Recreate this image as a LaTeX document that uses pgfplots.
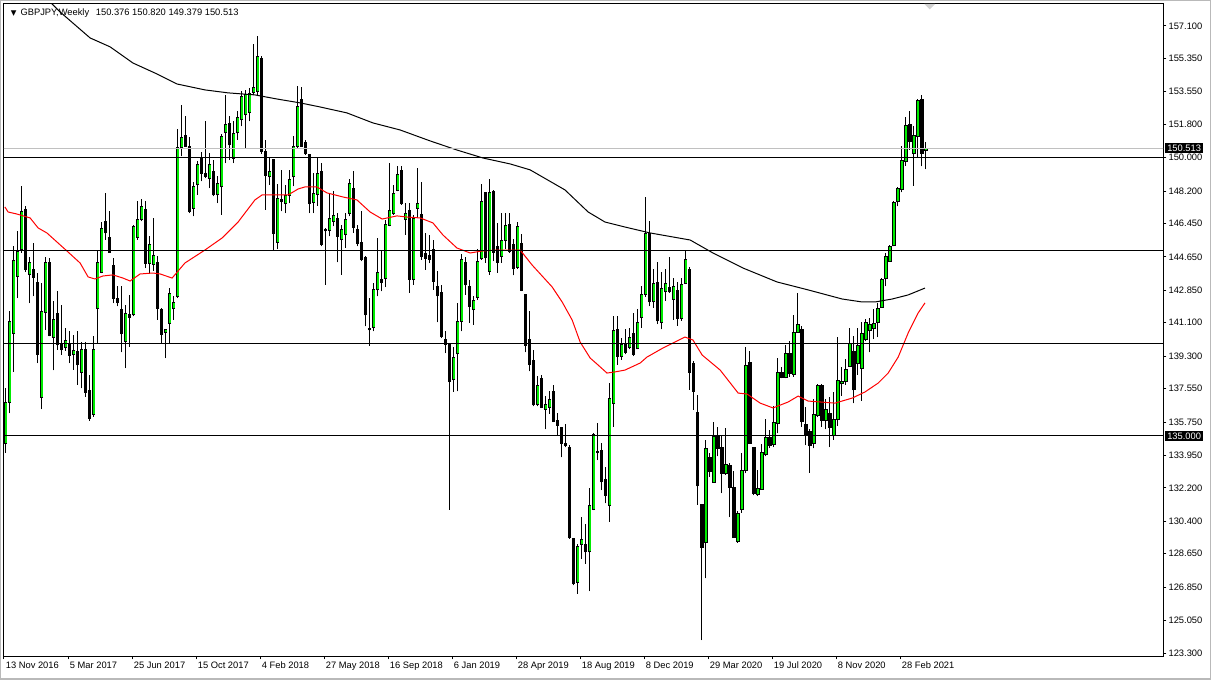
\documentclass[border=0pt]{standalone}
\usepackage{pgfplots}
\pgfplotsset{compat=1.18}
\usepackage{pgfplotstable}
\usepackage{fontspec}
\setmainfont{Liberation Sans}
\newfontfamily\dejavu{DejaVu Sans}

\definecolor{bull}{RGB}{0,235,0}
\definecolor{maRed}{RGB}{255,0,0}
\definecolor{askGray}{RGB}{192,192,192}

% weekly candles, i = weeks since 13 Nov 2016
\pgfplotstableread{
i O H L C
0 134.6 137.6 134.1 136.8
1 136.82 141.74 136.22 141.17
2 140.54 145.22 138.47 144.44
3 143.6 146.03 142.43 144.95
4 145.04 148.45 144.86 147.1
5 147.19 147.37 143.85 143.99
6 143.69 144.64 142.16 144.32
7 143.96 145.4 142.52 143.56
8 143.29 143.78 138.92 139.41
9 137.09 143.24 136.44 141.71
10 141.67 144.64 140.72 144.32
11 144.32 144.59 140.36 140.41
12 140.32 142.25 138.53 141.26
13 141.58 142.79 139.64 139.91
14 140.0 142.07 139.37 139.64
15 139.78 140.81 139.59 140.13
16 139.91 140.63 138.92 139.34
17 139.39 140.45 138.56 139.59
18 139.55 140.63 137.75 138.83
19 138.44 140.04 137.57 139.68
20 139.68 140.04 137.12 137.36
21 137.43 138.29 135.83 135.95
22 136.17 140.36 136.04 139.64
23 141.89 144.95 140.0 144.32
24 143.81 146.51 143.78 146.2
25 146.56 148.09 145.58 145.94
26 145.67 147.1 144.86 144.89
27 144.17 144.59 142.16 142.43
28 142.39 143.06 141.98 142.19
29 141.83 143.06 139.5 140.5
30 140.09 142.07 138.65 141.62
31 141.53 142.61 139.82 141.4
32 141.53 146.38 141.44 146.26
33 145.7 147.64 145.58 146.69
34 146.65 147.77 146.56 147.34
35 147.19 147.64 144.05 144.32
36 144.32 145.76 143.78 145.31
37 144.23 146.74 143.9 144.71
38 144.32 144.71 141.26 141.89
39 141.83 141.89 140.0 140.49
40 140.58 140.72 139.19 140.72
41 141.08 142.97 140.0 142.7
42 141.85 142.52 141.26 142.19
43 142.52 151.55 142.43 150.52
44 150.56 152.81 150.07 151.06
45 151.19 152.27 150.58 150.61
46 150.58 151.12 147.01 147.1
47 147.28 148.67 146.83 148.45
48 148.53 149.8 148.0 149.62
49 149.98 150.29 148.72 149.17
50 149.14 151.96 148.9 148.99
51 148.9 150.25 148.36 149.62
52 149.26 149.89 147.91 148.0
53 148.0 148.99 147.55 148.6
54 148.42 151.3 146.92 151.15
55 151.38 153.4 149.71 151.78
56 151.83 152.27 149.89 150.7
57 149.98 151.96 149.71 151.29
58 151.33 152.5 150.97 152.14
59 152.05 153.58 151.69 153.27
60 152.32 153.67 150.52 153.4
61 152.45 153.76 151.96 153.44
62 153.53 156.1 153.4 153.76
63 153.58 156.58 153.31 155.47
64 155.32 155.47 150.2 150.34
65 150.34 150.97 147.19 149.05
66 148.96 149.98 148.54 149.26
67 149.89 149.9 145.0 145.9
68 145.45 148.6 145.07 147.82
69 147.73 149.35 147.1 147.64
70 147.55 148.54 147.01 147.95
71 147.95 149.35 147.55 148.81
72 148.96 151.19 148.45 150.58
73 150.61 153.85 150.52 152.77
74 153.13 153.81 150.58 150.61
75 150.83 150.97 150.16 150.22
76 150.14 150.16 147.01 147.52
77 147.59 149.17 147.01 148.06
78 148.04 149.98 147.4 149.14
79 149.24 149.71 145.22 145.31
80 146.1 146.2 143.15 146.06
81 146.08 148.09 145.76 146.74
82 146.56 148.18 146.3 146.87
83 146.74 147.01 144.35 145.76
84 145.58 146.38 143.69 146.15
85 145.88 147.01 145.13 146.65
86 147.01 148.85 146.83 148.58
87 148.36 149.26 145.94 146.26
88 146.12 146.38 145.22 145.4
89 145.4 147.1 144.41 144.5
90 144.64 144.68 140.9 141.53
91 140.79 142.43 139.86 140.72
92 140.85 143.24 140.63 142.88
93 142.88 145.67 142.52 143.81
94 143.42 144.95 142.79 143.27
95 143.51 146.65 143.02 146.37
96 146.37 149.71 146.3 147.14
97 146.98 148.54 146.92 148.06
98 148.24 149.57 148.18 149.08
99 149.3 149.53 147.46 147.52
100 146.69 147.55 145.85 146.98
101 147.14 147.55 142.73 143.45
102 143.42 146.92 143.15 146.74
103 147.28 149.44 146.74 147.55
104 146.92 148.67 144.5 144.68
105 144.82 145.94 143.96 144.59
106 144.71 145.85 144.32 144.53
107 145.04 145.58 142.88 143.33
108 143.06 143.87 141.12 142.55
109 142.75 143.15 140.27 140.36
110 140.22 140.63 139.46 139.95
111 139.95 140.0 131.01 137.93
112 138.02 139.82 137.39 139.24
113 139.42 142.16 137.4 141.17
114 141.17 144.82 140.63 144.5
115 144.35 144.64 142.6 143.15
116 143.06 143.4 141.09 141.99
117 141.81 142.53 141.0 142.3
118 142.46 145.05 142.35 144.39
119 144.55 148.57 144.5 147.63
120 148.12 148.15 144.33 144.6
121 143.88 148.87 143.7 148.12
122 148.15 148.26 144.42 144.91
123 145.2 146.5 143.79 144.37
124 144.69 147.04 144.33 145.54
125 145.56 147.04 145.05 146.35
126 146.4 147.04 144.87 144.96
127 145.32 145.63 143.65 144.05
128 144.1 146.53 144.0 146.28
129 145.38 145.86 142.8 142.86
130 142.6 142.62 139.5 139.88
131 140.19 141.72 138.48 138.87
132 139.05 139.65 136.6 136.68
133 136.71 138.24 136.6 137.7
134 138.12 138.3 136.5 136.53
135 136.44 137.13 135.36 136.68
136 136.55 137.4 136.2 136.95
137 137.4 137.76 135.75 135.77
138 135.83 136.26 135.05 135.59
139 135.47 135.5 133.85 134.6
140 134.57 135.65 134.39 134.48
141 134.39 134.51 129.45 129.52
142 129.49 129.5 126.95 127.04
143 127.13 129.16 126.5 129.05
144 129.16 130.64 128.39 129.43
145 129.14 130.28 128.12 128.75
146 128.75 132.17 126.64 131.27
147 131.04 135.14 131.0 135.05
148 134.18 135.68 133.7 134.13
149 134.24 134.6 132.08 132.53
150 132.66 133.34 131.36 131.81
151 131.27 137.85 130.37 137.04
152 136.77 141.49 135.5 140.69
153 140.73 141.45 138.84 139.29
154 139.29 140.28 139.1 139.92
155 139.94 140.75 139.4 139.52
156 139.76 140.84 139.67 140.3
157 140.53 141.65 139.3 139.4
158 139.7 141.83 139.67 141.11
159 141.38 143.09 140.84 142.64
160 142.64 147.9 142.5 145.9
161 145.9 146.6 142.0 142.23
162 142.23 143.99 141.92 143.23
163 143.27 144.35 141.02 141.2
164 141.11 143.85 140.75 142.95
165 142.77 143.99 142.28 143.23
166 143.0 144.62 142.73 142.77
167 142.37 143.49 141.25 143.05
168 142.86 143.27 140.93 141.34
169 141.34 143.49 141.2 143.18
170 143.22 144.98 143.18 144.53
171 143.99 144.08 137.5 138.44
172 138.9 139.04 136.42 137.41
173 136.24 137.23 131.29 132.31
174 131.29 131.3 123.99 129.0
175 129.25 134.8 127.32 134.3
176 133.81 134.08 132.8 133.09
177 132.51 135.74 132.5 134.98
178 134.98 135.49 133.9 134.35
179 134.35 135.0 131.92 133.0
180 132.96 135.43 132.9 133.45
181 133.4 133.54 130.63 132.25
182 132.2 133.09 129.5 129.52
183 129.3 130.93 129.25 130.84
184 131.05 134.08 130.86 133.14
185 133.14 139.81 133.0 138.8
186 138.95 139.58 134.6 134.62
187 134.35 134.4 131.8 131.92
188 131.83 133.18 131.75 132.19
189 132.14 134.59 132.1 134.08
190 134.0 135.92 133.9 134.89
191 134.89 135.34 134.35 134.48
192 134.53 136.6 134.4 135.74
193 135.67 139.22 135.14 138.43
194 138.44 138.74 138.1 138.16
195 138.16 139.91 138.1 139.42
196 139.42 140.14 138.2 138.38
197 138.29 141.53 138.2 140.6
198 140.6 142.7 140.55 141.03
199 140.76 140.9 135.5 135.77
200 135.59 136.55 134.51 135.05
201 135.23 135.4 133.02 134.48
202 134.6 136.98 134.33 136.13
203 136.08 137.81 136.0 137.7
204 137.7 137.81 135.5 135.83
205 135.86 136.98 135.36 136.44
206 136.22 137.12 134.4 135.47
207 135.0 137.39 134.8 135.86
208 135.9 140.32 135.54 137.97
209 137.81 138.74 137.16 137.94
210 137.94 139.14 137.75 138.56
211 138.74 140.81 138.74 140.0
212 139.55 140.4 136.76 137.48
213 138.92 140.81 138.29 139.86
214 138.65 141.12 136.91 140.5
215 140.22 141.3 140.1 141.12
216 140.68 141.35 139.5 140.99
217 140.81 141.83 140.22 141.08
218 141.12 142.19 140.32 141.89
219 141.94 143.51 141.9 143.45
220 143.51 144.86 143.06 144.68
221 144.41 145.31 144.4 145.22
222 145.25 147.64 145.22 147.59
223 147.64 148.4 147.37 148.31
224 148.31 150.61 148.13 149.86
225 149.8 152.19 149.57 151.73
226 151.78 152.5 150.43 150.88
227 150.25 151.69 148.49 151.19
228 151.15 153.17 150.04 153.08
229 153.13 153.4 149.53 150.25
230 150.376 150.82 149.379 150.513
}\candles

% slow moving average (black)
\pgfplotstableread{
i ma
8.6 158.93
13.6 157.85
21.1 156.45
26.1 155.97
31.8 155.1
37.3 154.56
42.8 153.97
49.8 153.65
55.6 153.49
62.3 153.38
67.8 153.16
73.6 152.95
78.6 152.73
85.3 152.41
91.8 151.87
98.6 151.49
106.1 150.9
112.8 150.41
119.3 149.98
126.1 149.66
131.1 149.34
139.8 148.26
145.6 147.07
149.8 146.53
154.8 146.26
161.1 145.94
171.1 145.56
176.8 144.86
184.3 144.05
192.8 143.3
200.6 142.87
209.1 142.38
214.1 142.22
217.3 142.22
221.6 142.38
225.6 142.6
229.8 142.97
}\slowma

% fast moving average (red)
\pgfplotstableread{
i ma
-0.2 147.34
0.6 147.07
2.8 146.96
6.1 146.75
8.1 146.21
10.3 145.94
15.3 144.97
18.6 144.32
20.6 143.57
22.3 143.46
24.3 143.62
26.8 143.68
29.3 143.51
31.1 143.35
33.6 143.73
36.8 143.78
38.6 143.73
41.6 143.51
44.8 144.32
49.8 145.02
54.1 145.67
58.1 146.53
62.3 147.72
64.1 147.99
66.1 147.99
70.6 147.99
73.1 148.31
74.8 148.42
77.8 148.42
80.3 148.1
84.3 147.88
87.8 147.72
91.1 147.07
94.1 146.69
97.8 146.86
100.3 146.8
103.6 146.75
106.8 146.48
109.3 145.83
112.8 145.13
116.1 144.86
119.1 144.97
123.1 145.02
128.6 145.02
131.6 144.21
136.6 143.03
139.1 142.22
141.6 141.25
143.6 140.06
146.1 139.2
148.1 138.82
150.3 138.39
152.3 138.45
154.8 138.55
158.6 138.93
160.3 139.25
164.3 139.74
169.8 140.33
171.8 140.17
174.1 139.36
178.6 138.55
183.1 137.31
185.3 137.26
188.6 136.77
191.8 136.51
195.6 136.83
198.1 137.15
200.6 136.88
207.3 136.77
211.6 137.04
214.8 137.37
218.1 137.85
220.6 138.39
223.1 139.25
225.6 140.55
228.1 141.63
229.8 142.17
}\fastma

\pgfplotsset{
  candle part/.style={only marks, mark=*, mark size=0pt,
      mark options={draw=none, fill=none}, forget plot},
}

\begin{document}
\begin{tikzpicture}
\useasboundingbox (0,0) rectangle (908.25pt,509.25pt);
\fill[white] (0,0) rectangle (908.25pt,509.25pt);
\draw[gray!55, line width=1.5pt] (0,0) rectangle (908.25pt,509.25pt);
\begin{axis}[
    name=ax,
    at={(3pt,17.25pt)}, anchor=south west,
    scale only axis,
    width=869.25pt, height=489pt,
    xmin=-0.425, xmax=289.3,
    ymin=123.14, ymax=158.28,
    axis line style={line width=0.75pt},
    clip mode=individual,
    xtick={-0.425,15.575,31.575,47.575,63.575,79.575,95.575,111.575,127.575,143.575,159.575,175.575,191.575,207.575,223.575},
    xticklabels={13 Nov 2016,5 Mar 2017,25 Jun 2017,15 Oct 2017,4 Feb 2018,27 May 2018,16 Sep 2018,6 Jan 2019,28 Apr 2019,18 Aug 2019,8 Dec 2019,29 Mar 2020,19 Jul 2020,8 Nov 2020,28 Feb 2021},
    ytick={157.1,155.35,153.55,151.8,150,148.2,146.45,144.65,142.85,141.1,139.3,137.55,135.75,133.95,132.2,130.4,128.65,126.85,125.05,123.3},
    yticklabels={157.100,155.350,153.550,151.800,150.000,148.200,146.450,144.650,142.850,141.100,139.300,137.550,135.750,133.950,132.200,130.400,128.650,126.850,125.050,123.300},
    xtick pos=bottom, ytick pos=right,
    yticklabel pos=right,
    tick align=outside,
    major tick length=2.5pt,
    tick style={black, line width=0.75pt},
    ticklabel style={font=\fontsize{7}{8}\selectfont, text=black},
    xticklabel style={anchor=north west, inner sep=0pt, xshift=1.2pt, yshift=-1.5pt},
    yticklabel style={anchor=west, inner sep=0pt, xshift=1.5pt},
]

% wicks
\addplot[black, candle part,
    error bars/.cd, y dir=plus, y explicit, error mark=none,
    error bar style={line width=0.75pt, black}]
    table[x=i, y=L, y error plus expr=\thisrow{H}-\thisrow{L}] {\candles};

% bearish bodies
\addplot[black, candle part,
    x filter/.expression={\thisrow{C}<\thisrow{O} ? x : nan},
    error bars/.cd, y dir=plus, y explicit, error mark=none,
    error bar style={line width=2.6pt, black, shorten <=-0.4pt, shorten >=-0.4pt}]
    table[x=i, y=C, y error plus expr=\thisrow{O}-\thisrow{C}] {\candles};

% bullish bodies: outline then green fill
\addplot[black, candle part,
    x filter/.expression={\thisrow{C}>\thisrow{O} ? x : nan},
    error bars/.cd, y dir=plus, y explicit, error mark=none,
    error bar style={line width=2.6pt, black, shorten <=-0.4pt, shorten >=-0.4pt}]
    table[x=i, y=O, y error plus expr=\thisrow{C}-\thisrow{O}] {\candles};
\addplot[bull, candle part,
    x filter/.expression={\thisrow{C}>\thisrow{O} ? x : nan},
    error bars/.cd, y dir=plus, y explicit, error mark=none,
    error bar style={line width=1.35pt, draw=bull, shorten <=0.35pt, shorten >=0.35pt}]
    table[x=i, y=O, y error plus expr=\thisrow{C}-\thisrow{O}] {\candles};

% moving averages
\addplot[black, line width=0.75pt, mark=none] table[x=i, y=ma] {\slowma};
\addplot[maRed, line width=0.75pt, mark=none] table[x=i, y=ma] {\fastma};

% price line and horizontal levels
\addplot[askGray, line width=0.75pt, mark=none] coordinates {(-1,150.513) (290,150.513)};
\addplot[black, line width=0.75pt, mark=none] coordinates {(-1,150) (290,150)};
\addplot[black, line width=0.75pt, mark=none] coordinates {(-1,145) (290,145)};
\addplot[black, line width=0.75pt, mark=none] coordinates {(-1,140) (290,140)};
\addplot[black, line width=0.75pt, mark=none] coordinates {(-1,135) (290,135)};

\path (axis cs:0,150.513) coordinate (pa)
      (axis cs:0,135) coordinate (pb)
      (axis cs:231,158.28) coordinate (tri);
\end{axis}

% price boxes on the right scale
\node[fill=black, text=white, font=\fontsize{7}{8}\selectfont, inner xsep=1.6pt, inner ysep=0pt,
      minimum height=8pt, anchor=west] at ([xshift=1.4pt]ax.east |- pa) {150.513};
\node[fill=black, text=white, font=\fontsize{7}{8}\selectfont, inner xsep=1.6pt, inner ysep=0pt,
      minimum height=8pt, anchor=west] at ([xshift=1.4pt]ax.east |- pb) {135.000};

% title line
\node[anchor=west, inner sep=0pt, font=\fontsize{7}{8}\selectfont]
  at ([xshift=5pt, yshift=-6.8pt]ax.north west)
  {{\dejavu\fontsize{5.5}{6}\selectfont ▼}\hspace{3pt}GBPJPY,Weekly\hspace{5pt}150.376 150.820 149.379 150.513};

% chart shift marker
\fill[gray!35] ([xshift=-4pt]tri) -- ([xshift=4pt]tri) -- ([yshift=-4pt]tri) -- cycle;
\end{tikzpicture}
\end{document}
